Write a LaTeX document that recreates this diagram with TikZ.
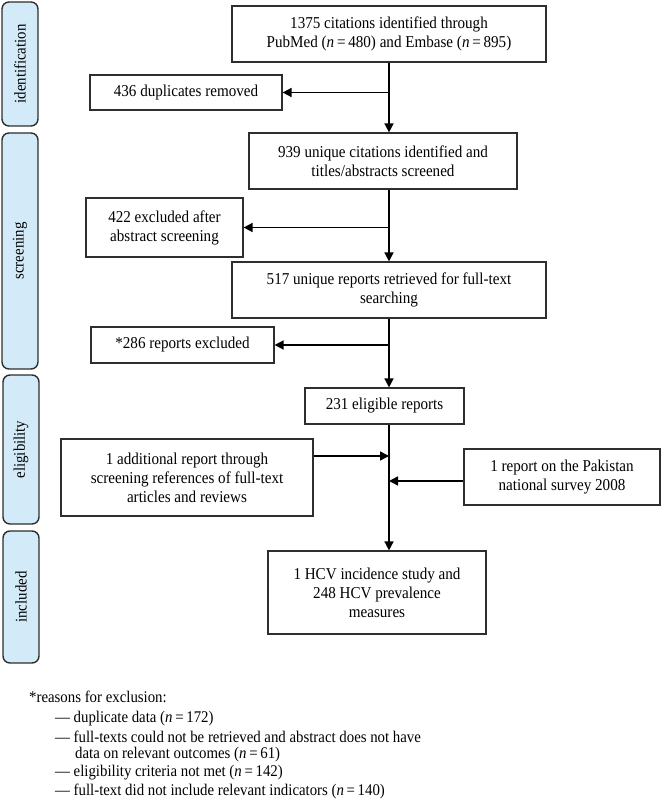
\documentclass[tikz,border=0pt]{standalone}
\usepackage{fontspec}
\setmainfont{Liberation Serif}[FakeStretch=0.91]
\usetikzlibrary{arrows.meta}
\definecolor{sidefill}{HTML}{D3EAF9}
\definecolor{edge}{HTML}{2E2E2E}
\begin{document}
\begin{tikzpicture}[x=1pt,y=-1pt,
  box/.style={draw=edge, line width=1.2pt, align=center, inner sep=0pt, font=\fontsize{16.6}{19}\selectfont},
  side/.style={draw=edge, fill=sidefill, rounded corners=7pt, line width=1.4pt, rotate=90, minimum height=36pt, inner sep=0pt, font=\fontsize{16.3}{18}\selectfont},
  arr/.style={line width=1.6pt, -{Triangle[length=9pt,width=9pt]}},
  note/.style={anchor=west, inner sep=0pt, font=\fontsize{16.3}{18}\selectfont},
]
\useasboundingbox (0,0) rectangle (661,799);

% side labels
\node[side, minimum width=124pt] (sid) at (20,64) {identification};
\node[side, minimum width=236pt] (sscr) at (20,251) {screening};
\node[side, minimum width=149pt] (selig) at (21,449.5) {eligibility};
\node[side, minimum width=132pt] (sinc) at (21,597) {included};

% boxes
\node[box, minimum width=314pt, minimum height=56pt] (A) at (389,34)
  {1375 citations identified through\\PubMed (\textit{n}\,=\,480) and Embase (\textit{n}\,=\,895)};
\node[box, minimum width=192pt, minimum height=35pt] (dup) at (186,92.5)
  {436 duplicates removed};
\node[box, minimum width=268pt, minimum height=56pt] (B) at (383,161)
  {939 unique citations identified and\\titles/abstracts screened};
\node[box, minimum width=157pt, minimum height=59pt] (ex1) at (164.5,227.5)
  {422 excluded after\\abstract screening};
\node[box, minimum width=314pt, minimum height=56pt] (C) at (389,290)
  {517 unique reports retrieved for full-text\\searching};
\node[box, minimum width=183pt, minimum height=36pt] (ex2) at (182.5,345)
  {*286 reports excluded};
\node[box, minimum width=159pt, minimum height=36pt] (D) at (384.5,406)
  {231 eligible reports};
\node[box, minimum width=252pt, minimum height=77pt] (E) at (187,477.5)
  {1 additional report through\\screening references of full-text\\articles and reviews};
\node[box, minimum width=196pt, minimum height=56pt] (F) at (562,477)
  {1 report on the Pakistan\\national survey 2008};
\node[box, minimum width=218pt, minimum height=83pt] (G) at (377,592.5)
  {1 HCV incidence study and\\248 HCV prevalence\\measures};

% connectors
\coordinate (spine) at (389,0);
\draw[arr] (A.south) -- (spine |- B.north);
\draw[arr] (spine |- dup.east) -- (dup.east);
\draw[arr] (spine |- B.south) -- (spine |- C.north);
\draw[arr] (spine |- ex1.east) -- (ex1.east);
\draw[arr] (C.south) -- (spine |- D.north);
\draw[arr] (spine |- ex2.east) -- (ex2.east);
\draw[arr] (spine |- D.south) -- (spine |- G.north);
\coordinate (eIn) at (389,456);
\coordinate (fIn) at (389,481);
\draw[arr] (E.east |- eIn) -- (eIn);
\draw[arr] (F.west |- fIn) -- (fIn);

% footnote
\node[note] (n0) at (29,697) {*reasons for exclusion:};
\node[note] (n1) at (55,719) {— duplicate data (\textit{n}\,=\,172)};
\node[note] (n2) at (55,737) {— full-texts could not be retrieved and abstract does not have};
\node[note] (n3) at (75,755) {data on relevant outcomes (\textit{n}\,=\,61)};
\node[note] (n4) at (55,773) {— eligibility criteria not met (\textit{n}\,=\,142)};
\node[note] (n5) at (55,791) {— full-text did not include relevant indicators (\textit{n}\,=\,140)};
\end{tikzpicture}
\end{document}
